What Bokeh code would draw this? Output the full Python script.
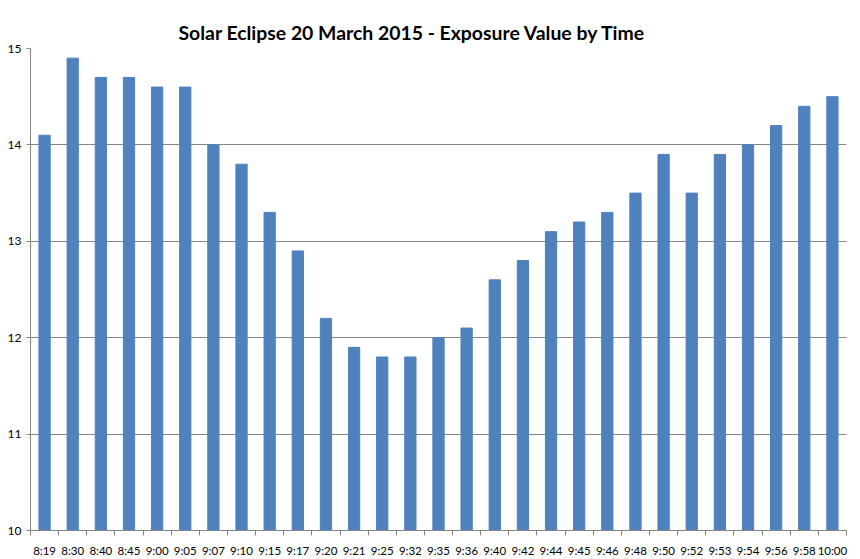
import numpy as np
from bokeh.plotting import figure
from bokeh.models import FixedTicker, Range1d, ColumnDataSource
from bokeh.embed import file_html
from bokeh.resources import INLINE

times = ["8:19", "8:30", "8:40", "8:45", "9:00", "9:05", "9:07", "9:10", "9:15", "9:17",
         "9:20", "9:21", "9:25", "9:32", "9:35", "9:36", "9:40", "9:42", "9:44", "9:45",
         "9:46", "9:48", "9:50", "9:52", "9:53", "9:54", "9:56", "9:58", "10:00"]
ev = [14.1, 14.9, 14.7, 14.7, 14.6, 14.6, 14.0, 13.8, 13.3, 12.9,
      12.2, 11.9, 11.8, 11.8, 12.0, 12.1, 12.6, 12.8, 13.1, 13.2,
      13.3, 13.5, 13.9, 13.5, 13.9, 14.0, 14.2, 14.4, 14.5]
y_ticks = [10, 11, 12, 13, 14, 15]

n = len(times)
xpos = np.arange(n) + 0.5
src = ColumnDataSource(dict(x=xpos, top=ev, label=times))

p = figure(width=860, height=559, output_backend="svg", toolbar_location=None,
           x_range=Range1d(0, n), y_range=Range1d(10, 15),
           title="Solar Eclipse 20 March 2015 - Exposure Value by Time",
           min_border_left=30, min_border_right=14, min_border_top=48, min_border_bottom=28)
p.title.align = "left"
p.title.offset = 148
p.title.text_font = "Lato"
p.title.text_font_size = "19.4px"
p.title.text_font_style = "bold"
p.title.text_color = "#000000"

p.vbar(x="x", top="top", bottom=10, width=0.4, source=src, color="#4F81BD")

p.outline_line_color = None
p.background_fill_color = "white"

# x axis
xax = p.xaxis[0]
xax.ticker = FixedTicker(ticks=list(xpos), minor_ticks=list(range(n + 1)))
xax.major_label_overrides = {float(x): t for x, t in zip(xpos, times)}
xax.major_tick_line_color = None
xax.minor_tick_out = 5
xax.minor_tick_in = 0
xax.minor_tick_line_color = "#868686"
xax.axis_line_color = "#868686"
xax.major_label_text_font = "Lato"
xax.major_label_text_font_size = "11.5px"
xax.major_label_text_color = "#000000"
xax.major_label_standoff = 7

# y axis
yax = p.yaxis[0]
yax.ticker = FixedTicker(ticks=y_ticks)
yax.major_tick_out = 4
yax.major_tick_in = 0
yax.minor_tick_line_color = None
yax.major_tick_line_color = "#868686"
yax.axis_line_color = "#868686"
yax.major_label_text_font = "Lato"
yax.major_label_text_font_size = "12px"
yax.major_label_text_color = "#000000"
yax.major_label_standoff = 5

p.xgrid.grid_line_color = None
p.ygrid.ticker = FixedTicker(ticks=y_ticks)
p.ygrid.grid_line_color = "#868686"

open("out.html", "w").write(file_html(p, INLINE))
